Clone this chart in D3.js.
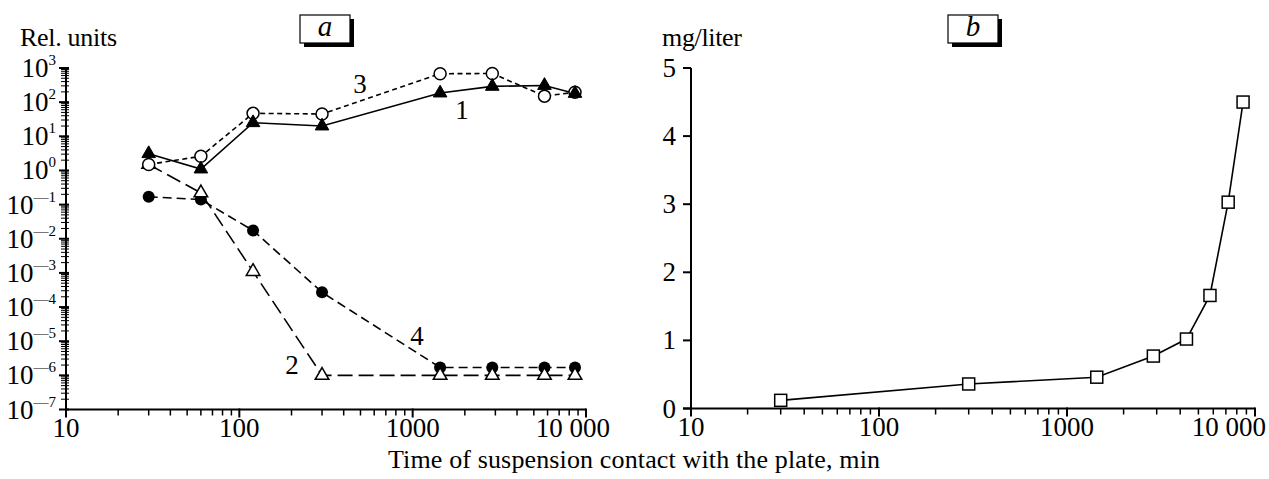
<!DOCTYPE html>
<html>
<head>
<meta charset="utf-8">
<script src="https://cdn.jsdelivr.net/npm/d3@7"></script>
<style>
  html, body { margin: 0; padding: 0; background: #fff; }
  svg { display: block; }
  text { font-family: "Liberation Serif", "Times New Roman", serif; fill: #000; }
</style>
</head>
<body>
<svg id="chart" width="1269" height="479"></svg>
<script>
// ---------- data ----------
const timesA = [30, 60, 120, 300, 1440, 2880, 5760, 8640];
const series1 = [3.1, 1.1, 25, 20, 185, 290, 308, 180];          // filled triangles, solid
const series2 = [1.5, 0.22, 1.1e-3, 1e-6, 1e-6, 1e-6, 1e-6, 1e-6]; // open triangles, long dash
const series3 = [1.5, 2.6, 47, 45, 680, 690, 150, 195];            // open circles, short dash
const series4 = [0.17, 0.14, 0.0175, 2.7e-4, 1.7e-6, 1.7e-6, 1.7e-6, 1.7e-6]; // filled circles, dash
const seriesNames = ["1", "2", "3", "4"];
const timesB = [30, 300, 1440, 2880, 4320, 5760, 7200, 8640];
const valuesB = [0.12, 0.36, 0.46, 0.77, 1.02, 1.66, 3.03, 4.50];
const xTickValues = [10, 100, 1000, 10000];
const xTickLabels = ["10", "100", "1000", "10 000"];
const yExpA = [3, 2, 1, 0, -1, -2, -3, -4, -5, -6, -7];
const yTicksB = [0, 1, 2, 3, 4, 5];

const svg = d3.select("#chart");
const FS = 27;

// ---------- panel a scales ----------
const xa = d3.scaleLog().domain([10, 10000]).range([66, 586]);
const ya = d3.scaleLog().domain([1e-7, 1e3]).range([409.5, 68]);
// ---------- panel b scales ----------
const xb = d3.scaleLog().domain([10, 10000]).range([691, 1255]);
const yb = d3.scaleLinear().domain([0, 5]).range([408.5, 68]);

function minorLog(lo, hi) {
  const out = [];
  for (let d = lo; d < hi; d *= 10)
    for (let k = 2; k <= 9; k++) out.push(d * k);
  return out;
}

// ---------- x axes ----------
function drawXAxis(x, y0, xLeft, lastRight) {
  const g = svg.append("g");
  g.append("line").attr("x1", xLeft).attr("x2", x.range()[1]).attr("y1", y0).attr("y2", y0)
    .attr("stroke", "#000").attr("stroke-width", 2);
  g.selectAll("line.mj").data(xTickValues).enter().append("line")
    .attr("x1", d => x(d)).attr("x2", d => x(d)).attr("y1", y0 - 1).attr("y2", y0 + 8)
    .attr("stroke", "#000").attr("stroke-width", 2);
  g.selectAll("line.mn").data(minorLog(10, 10000)).enter().append("line")
    .attr("x1", d => x(d)).attr("x2", d => x(d)).attr("y1", y0).attr("y2", y0 + 6)
    .attr("stroke", "#000").attr("stroke-width", 1.5);
  const last = xTickValues.length - 1;
  g.selectAll("text").data(xTickValues).enter().append("text")
    .attr("x", (d, i) => i === last ? lastRight : x(d)).attr("y", y0 + 27)
    .attr("text-anchor", (d, i) => i === last ? "end" : "middle")
    .attr("font-size", FS).text((d, i) => xTickLabels[i]);
}
drawXAxis(xa, 409.5, 66, 610);
drawXAxis(xb, 408.5, 683, 1266);

// ---------- panel a y axis (log) ----------
const ga = svg.append("g");
ga.append("line").attr("x1", 66).attr("x2", 66).attr("y1", 68).attr("y2", 409.5)
  .attr("stroke", "#000").attr("stroke-width", 2);
ga.selectAll("line.mj").data(yExpA).enter().append("line")
  .attr("x1", 59).attr("x2", 69).attr("y1", d => ya(Math.pow(10, d))).attr("y2", d => ya(Math.pow(10, d)))
  .attr("stroke", "#000").attr("stroke-width", 2);
ga.selectAll("line.mn").data(minorLog(1e-7, 1e3)).enter().append("line")
  .attr("x1", 61).attr("x2", 69).attr("y1", d => ya(d)).attr("y2", d => ya(d))
  .attr("stroke", "#000").attr("stroke-width", 1);
const yl = ga.selectAll("text").data(yExpA).enter().append("text")
  .attr("x", 56).attr("y", d => ya(Math.pow(10, d)) + 9).attr("text-anchor", "end")
  .attr("font-size", FS);
yl.append("tspan").text("10");
yl.append("tspan").attr("font-size", 15).attr("dy", -12).text(d => d < 0 ? "\u2014" + (-d) : String(d));

// ---------- panel b y axis (linear) ----------
const gb = svg.append("g");
gb.append("line").attr("x1", 691).attr("x2", 691).attr("y1", 68).attr("y2", 408.5)
  .attr("stroke", "#000").attr("stroke-width", 2);
gb.selectAll("line.t").data(yTicksB).enter().append("line")
  .attr("x1", 683).attr("x2", 691).attr("y1", d => yb(d)).attr("y2", d => yb(d))
  .attr("stroke", "#000").attr("stroke-width", 2);
gb.selectAll("text").data(yTicksB).enter().append("text")
  .attr("x", 676).attr("y", d => yb(d) + 9).attr("text-anchor", "end")
  .attr("font-size", FS).text(d => d);

// ---------- axis captions ----------
svg.append("text").attr("x", 20).attr("y", 46).attr("font-size", 26).attr("textLength", 97).text("Rel. units");
svg.append("text").attr("x", 662).attr("y", 46).attr("font-size", 26).attr("textLength", 80).text("mg/liter");
svg.append("text").attr("x", 388).attr("y", 468).attr("font-size", 26).attr("textLength", 492)
  .text("Time of suspension contact with the plate, min");

// ---------- panel labels ----------
function panelBox(x, y, w, h, letter) {
  svg.append("rect").attr("x", x + 4).attr("y", y + 4).attr("width", w).attr("height", h).attr("fill", "#000");
  svg.append("rect").attr("x", x).attr("y", y).attr("width", w).attr("height", h)
    .attr("fill", "#fff").attr("stroke", "#000").attr("stroke-width", 1.2);
  svg.append("text").attr("x", x + w / 2).attr("y", y + h / 2 + 7).attr("text-anchor", "middle")
    .attr("font-size", 29).attr("font-style", "italic").text(letter);
}
panelBox(300, 15, 50, 28, "a");
panelBox(948, 15, 50, 28, "b");

// ---------- panel a lines ----------
const lineA = d3.line().x(d => xa(d[0])).y(d => ya(d[1]));
const zip = vals => timesA.map((t, i) => [t, vals[i]]);
const styleA = [
  { vals: series1, dash: null },
  { vals: series2, dash: "15,6" },
  { vals: series3, dash: "5,3.5" },
  { vals: series4, dash: "9,5" }
];
styleA.forEach(s => {
  svg.append("path").datum(zip(s.vals)).attr("d", lineA)
    .attr("fill", "none").attr("stroke", "#000").attr("stroke-width", 1.6)
    .attr("stroke-dasharray", s.dash);
});

const tri = d3.symbol().type(d3.symbolTriangle).size(80);
// series 4 filled circles
svg.append("g").selectAll("circle").data(zip(series4)).enter().append("circle")
  .attr("cx", d => xa(d[0])).attr("cy", d => ya(d[1])).attr("r", 6).attr("fill", "#000");
// series 2 open triangles
svg.append("g").selectAll("path").data(zip(series2)).enter().append("path")
  .attr("d", tri).attr("transform", d => `translate(${xa(d[0])},${ya(d[1])})`)
  .attr("fill", "#fff").attr("stroke", "#000").attr("stroke-width", 1.5);
// series 3 open circles
svg.append("g").selectAll("circle").data(zip(series3)).enter().append("circle")
  .attr("cx", d => xa(d[0])).attr("cy", d => ya(d[1])).attr("r", 6)
  .attr("fill", "#fff").attr("stroke", "#000").attr("stroke-width", 1.5);
// series 1 filled triangles
svg.append("g").selectAll("path").data(zip(series1)).enter().append("path")
  .attr("d", tri).attr("transform", d => `translate(${xa(d[0])},${ya(d[1])})`)
  .attr("fill", "#000").attr("stroke", "#000").attr("stroke-width", 1);

// series labels
const labelPos = [[462, 119], [292, 374], [360, 93], [417, 345]];
seriesNames.forEach((n, i) => {
  svg.append("text").attr("x", labelPos[i][0]).attr("y", labelPos[i][1])
    .attr("text-anchor", "middle").attr("font-size", 27).text(n);
});

// ---------- panel b ----------
const lineB = d3.line().x(d => xb(d[0])).y(d => yb(d[1]));
const dataB = timesB.map((t, i) => [t, valuesB[i]]);
svg.append("path").datum(dataB).attr("d", lineB)
  .attr("fill", "none").attr("stroke", "#000").attr("stroke-width", 1.6);
svg.append("g").selectAll("rect").data(dataB).enter().append("rect")
  .attr("x", d => xb(d[0]) - 6).attr("y", d => yb(d[1]) - 6).attr("width", 12).attr("height", 12)
  .attr("fill", "#fff").attr("stroke", "#000").attr("stroke-width", 1.5);
</script>
</body>
</html>
